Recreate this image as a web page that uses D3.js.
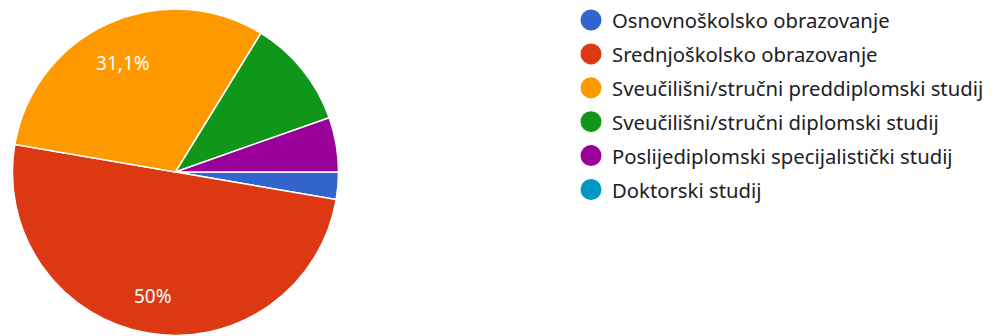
<!DOCTYPE html>
<html>
<head>
<meta charset="utf-8">
<script src="https://cdn.jsdelivr.net/npm/d3@7"></script>
<style>
  html, body { margin: 0; padding: 0; background: #fff; }
  svg { display: block; }
</style>
</head>
<body>
<svg id="chart" width="997" height="336"></svg>
<script>
// Education level of respondents
const categories = [
  "Osnovnoškolsko obrazovanje",
  "Srednjoškolsko obrazovanje",
  "Sveučilišni/stručni preddiplomski studij",
  "Sveučilišni/stručni diplomski studij",
  "Poslijediplomski specijalistički studij",
  "Doktorski studij"
];
const counts = [2, 37, 23, 8, 4, 0];
const colors = ["#3366cc", "#dc3912", "#ff9900", "#109618", "#990099", "#0099c6"];

const svg = d3.select("#chart");
const font = "'Noto Sans', 'Open Sans', Arial, sans-serif";

const cx = 175.5, cy = 172, radius = 163;
const total = d3.sum(counts);

// Slices run clockwise starting from 3 o'clock
const pie = d3.pie()
  .value(d => d.value)
  .sort(null)
  .startAngle(Math.PI / 2)
  .endAngle(Math.PI / 2 + 2 * Math.PI);

const data = categories.map((c, i) => ({ name: c, value: counts[i], color: colors[i] }));
const arcs = pie(data);

const arc = d3.arc().innerRadius(0).outerRadius(radius);
const labelArc = d3.arc().innerRadius(radius * 0.755).outerRadius(radius * 0.755);

const g = svg.append("g").attr("transform", `translate(${cx},${cy})`);

g.selectAll("path.slice")
  .data(arcs.filter(a => a.data.value > 0))
  .join("path")
  .attr("class", "slice")
  .attr("d", arc)
  .attr("fill", d => d.data.color)
  .attr("stroke", "#fff")
  .attr("stroke-width", 1.5);

// Percentage labels on slices large enough to hold them
const fmt = v => {
  const p = v / total * 100;
  const r = Math.round(p * 10) / 10;
  return (Number.isInteger(r) ? r.toFixed(0) : r.toFixed(1)).replace(".", ",") + "%";
};

g.selectAll("text.pct")
  .data(arcs.filter(a => a.data.value / total >= 0.15))
  .join("text")
  .attr("class", "pct")
  .attr("transform", d => {
    const [x, y] = labelArc.centroid(d);
    return `translate(${x - 2},${y + 3})`;
  })
  .attr("text-anchor", "middle")
  .attr("dominant-baseline", "central")
  .attr("fill", "#fff")
  .attr("font-family", font)
  .attr("font-size", 19)
  .text(d => fmt(d.data.value));

// Legend
const legendX = 591, legendY = 20, rowH = 33.9;
const legend = svg.append("g");
const rows = legend.selectAll("g.row")
  .data(data)
  .join("g")
  .attr("class", "row")
  .attr("transform", (d, i) => `translate(${legendX},${legendY + i * rowH})`);

rows.append("circle")
  .attr("r", 10.5)
  .attr("fill", d => d.color);

rows.append("text")
  .attr("x", 21)
  .attr("dominant-baseline", "central")
  .attr("fill", "#202124")
  .attr("font-family", font)
  .attr("font-size", 20.3)
  .text(d => d.name);
</script>
</body>
</html>
